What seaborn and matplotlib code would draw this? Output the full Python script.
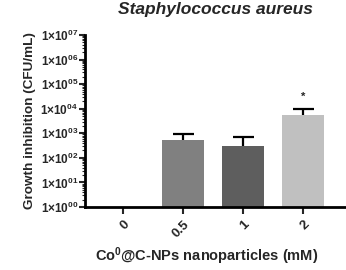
import matplotlib
matplotlib.use("Agg")
import matplotlib.pyplot as plt
import seaborn as sns
import numpy as np
from matplotlib.ticker import FixedLocator, FixedFormatter, LogLocator, NullFormatter

# ---- data ----
categories = ["0", "0.5", "1", "2"]
means = [0.0, 533.0, 312.0, 5400.0]
upper = [0.0, 962.0, 687.0, 9740.0]
bar_colors = ["#ffffff", "#808080", "#5e5e5e", "#c0c0c0"]
significance = ["", "", "", "*"]
ytick_exponents = ["00", "01", "02", "03", "04", "05", "06", "07"]
title = "Staphylococcus aureus"
ylabel = "Growth inhibition (CFU/mL)"

sns.set_style("ticks")
plt.rcParams["font.family"] = ["Liberation Sans", "DejaVu Sans"]
plt.rcParams["font.weight"] = "bold"
plt.rcParams["mathtext.fontset"] = "custom"
plt.rcParams["mathtext.rm"] = "Liberation Sans:bold"
plt.rcParams["mathtext.bf"] = "Liberation Sans:bold"
plt.rcParams["mathtext.it"] = "Liberation Sans:bold:italic"

fig = plt.figure(figsize=(3.46, 2.70), dpi=100)
ax = fig.add_axes([0.2457, 0.2333, 0.7543, 0.6370])

sns.barplot(x=categories, y=means, hue=categories, palette=bar_colors,
            legend=False, width=0.7, ax=ax, edgecolor="none", saturation=1)

ax.set_yscale("log")
ax.set_ylim(1, 1e7)
ax.set_xlim(-0.64, 3.71)

xs = np.arange(len(categories))
for i, (m, u) in enumerate(zip(means, upper)):
    if m > 0:
        ax.vlines(xs[i], m, u, color="black", lw=1.6, zorder=3)
        ax.hlines(u, xs[i] - 0.17, xs[i] + 0.17, color="black", lw=1.6, zorder=3)
    if significance[i]:
        ax.annotate(significance[i], (xs[i], u), xytext=(0, 5), textcoords="offset points",
                    ha="center", va="bottom", fontsize=8, fontweight="bold")

# y ticks
ax.yaxis.set_major_locator(FixedLocator([10.0 ** int(e) for e in ytick_exponents]))
ax.yaxis.set_major_formatter(FixedFormatter(
    [r"$1{\times}10^{%s}$" % e for e in ytick_exponents]))
ax.yaxis.set_minor_locator(LogLocator(base=10, subs=np.arange(2, 10), numticks=100))
ax.yaxis.set_minor_formatter(NullFormatter())
ax.tick_params(axis="y", which="major", length=4, width=1.5, labelsize=8.5, pad=1)
ax.tick_params(axis="y", which="minor", length=2, width=0.8)
ax.tick_params(axis="x", which="major", length=5, width=1.5, labelsize=9.5, pad=3)

ax.set_xticks(xs)
ax.set_xticklabels(categories, rotation=45, ha="right", rotation_mode="anchor",
                   fontweight="bold")

for s in ["top", "right"]:
    ax.spines[s].set_visible(False)
for s in ["left", "bottom"]:
    ax.spines[s].set_linewidth(2)
    ax.spines[s].set_color("black")

ax.set_title(title, fontsize=12.5, fontweight="bold", fontstyle="italic", pad=15)
ax.set_ylabel(ylabel, fontsize=9.7, fontweight="bold", labelpad=3)
ax.set_xlabel(r"Co$^{0}$@C-NPs nanoparticles (mM)", fontsize=10.5, fontweight="bold")
ax.xaxis.set_label_coords(0.465, -0.225)

fig.savefig("out.png", dpi=100)
